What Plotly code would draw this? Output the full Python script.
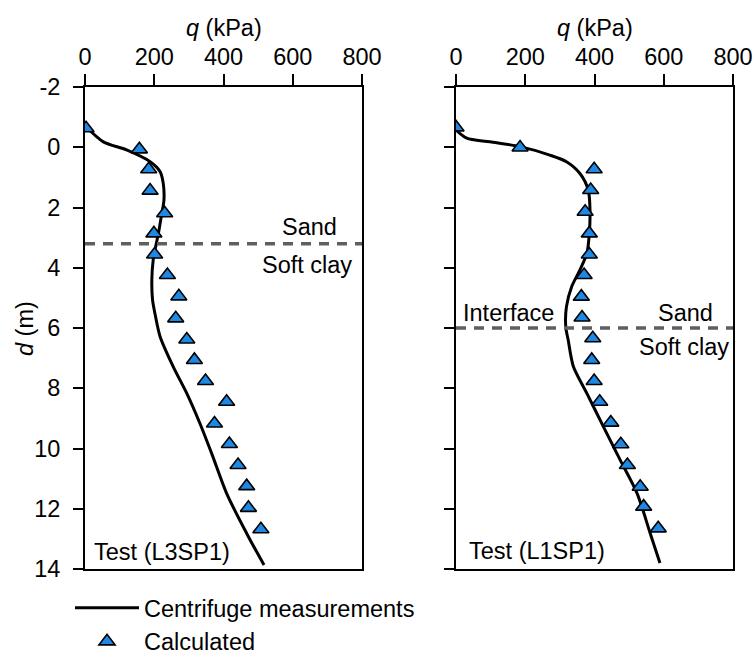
import plotly.graph_objects as go

# ---------------- data ----------------
# Left panel: Test (L3SP1)
left_meas_q = [3, 53, 120, 188, 217, 226, 228, 221, 212, 205, 197, 193, 195, 202, 217, 255, 294, 332, 366, 409, 467, 517]
left_meas_d = [-0.68, -0.18, 0.09, 0.48, 0.81, 1.2, 1.75, 2.25, 2.86, 3.25, 3.74, 4.4, 5.06, 5.52, 6.29, 7.29, 8.17, 9.17, 10.17, 11.49, 12.82, 13.87]
left_calc_q = [3, 157, 184, 188, 230, 199, 201, 238, 271, 262, 294, 316, 348, 409, 374, 417, 442, 467, 472, 508]
left_calc_d = [-0.63, 0.07, 0.73, 1.44, 2.19, 2.86, 3.56, 4.24, 4.95, 5.68, 6.38, 7.06, 7.76, 8.45, 9.17, 9.85, 10.55, 11.25, 11.97, 12.68]
left_interface_d = 3.2

# Right panel: Test (L1SP1)
right_meas_q = [0, 31, 98, 185, 271, 319, 358, 382, 387, 385, 378, 358, 334, 319, 317, 324, 339, 378, 426, 474, 523, 561, 589]
right_meas_d = [-0.57, -0.3, -0.18, -0.02, 0.26, 0.48, 0.87, 1.42, 2.08, 2.86, 3.52, 4.07, 4.63, 5.29, 5.96, 6.4, 7.28, 8.17, 9.28, 10.38, 11.49, 12.82, 13.8]
right_calc_q = [0, 185, 399, 389, 373, 385, 385, 370, 362, 364, 395, 392, 399, 415, 447, 476, 495, 532, 542, 584]
right_calc_d = [-0.66, 0.01, 0.73, 1.42, 2.14, 2.86, 3.56, 4.24, 4.96, 5.65, 6.34, 7.06, 7.76, 8.45, 9.14, 9.86, 10.55, 11.27, 11.93, 12.65]
right_interface_d = 6.0

x_ticks = [0, 200, 400, 600, 800]
y_ticks = [-2, 0, 2, 4, 6, 8, 10, 12, 14]
y_tick_labels = ["-2", "0", "2", "4", "6", "8", "10", "12", "14"]

# ---------------- style ----------------
FONT = "Liberation Sans, Arial, sans-serif"
FS = 23.5
BLUE = "#1E88E5"
W, H = 754, 654

fig = go.Figure()

panels = [
    ("x", "y", left_meas_q, left_meas_d, left_calc_q, left_calc_d, True),
    ("x2", "y2", right_meas_q, right_meas_d, right_calc_q, right_calc_d, False),
]
for xa, ya, mq, md, cq, cd, show in panels:
    fig.add_trace(go.Scatter(
        x=mq, y=md, xaxis=xa, yaxis=ya, mode="lines",
        line=dict(color="black", width=3, shape="spline", smoothing=0.8),
        name="Centrifuge measurements", showlegend=show,
    ))
    fig.add_trace(go.Scatter(
        x=cq, y=cd, xaxis=xa, yaxis=ya, mode="markers",
        marker=dict(symbol="triangle-up", size=14, color=BLUE,
                    line=dict(color="black", width=1.6)),
        name="Calculated", showlegend=show,
    ))

# interface dashed lines
for xr, yr, d in [("x domain", "y", left_interface_d), ("x2 domain", "y2", right_interface_d)]:
    fig.add_shape(type="line", xref=xr, yref=yr, x0=0, x1=1, y0=d, y1=d,
                  line=dict(color="#5f5f5f", width=3.5, dash="10px,8px"))

axis_common = dict(
    range=[0, 800], tickvals=x_ticks, side="top", ticks="outside",
    ticklen=11, tickwidth=2, tickcolor="black", showline=True, linewidth=2,
    linecolor="black", mirror=True, showgrid=False, zeroline=False,
    automargin=False,
    tickfont=dict(family=FONT, size=FS, color="black"),
)
yaxis_common = dict(
    range=[14, -2], tickvals=y_ticks, ticktext=y_tick_labels, ticks="outside",
    ticklen=10, tickwidth=2, ticklabelstandoff=8, automargin=False,
    tickcolor="black", showline=True, linewidth=2, linecolor="black", mirror=True,
    showgrid=False, zeroline=False,
    tickfont=dict(family=FONT, size=FS, color="black"),
)

ydom = [1 - 569 / H, 1 - 87 / H]
fig.update_layout(
    width=W, height=H,
    margin=dict(l=0, r=0, t=0, b=0, autoexpand=False),
    paper_bgcolor="white", plot_bgcolor="white",
    font=dict(family=FONT, size=FS, color="black"),
    xaxis=dict(domain=[85 / W, 362 / W], anchor="y", **axis_common),
    xaxis2=dict(domain=[456 / W, 733 / W], anchor="y2", **axis_common),
    yaxis=dict(domain=ydom, anchor="x", **yaxis_common),
    yaxis2=dict(domain=ydom, anchor="x2", showticklabels=False, **yaxis_common),
    legend=dict(x=70 / W, y=1 - 586 / H, xanchor="left", yanchor="top",
                font=dict(family=FONT, size=FS, color="black"),
                bgcolor="rgba(0,0,0,0)", itemwidth=64, tracegroupgap=0),
    showlegend=True,
)

ann_font = dict(family=FONT, size=FS, color="black")
# axis titles
for xr in ["x domain", "x2 domain"]:
    fig.add_annotation(text="<i>q</i> (kPa)", xref=xr, yref="paper", x=0.5, y=1 - 28 / H,
                       showarrow=False, font=ann_font, xanchor="center", yanchor="middle")
fig.add_annotation(text="<i>d</i> (m)", xref="paper", yref="paper", x=25 / W, y=1 - 329 / H,
                   textangle=-90, showarrow=False, font=ann_font, xanchor="center", yanchor="middle")

annotations = [
    dict(text="Sand", x=648, y=2.65, xref="x", yref="y"),
    dict(text="Soft clay", x=640, y=3.9, xref="x", yref="y"),
    dict(text="Sand", x=664, y=5.5, xref="x2", yref="y2"),
    dict(text="Soft clay", x=658, y=6.63, xref="x2", yref="y2"),
    dict(text="Interface", x=152, y=5.5, xref="x2", yref="y2"),
]
for a in annotations:
    fig.add_annotation(showarrow=False, font=ann_font, xanchor="center", yanchor="middle", **a)
fig.add_annotation(text="Test (L3SP1)", x=20, y=13.43, xref="x", yref="y",
                   showarrow=False, font=ann_font, xanchor="left", yanchor="middle")
fig.add_annotation(text="Test (L1SP1)", x=32, y=13.4, xref="x2", yref="y2",
                   showarrow=False, font=ann_font, xanchor="left", yanchor="middle")

fig.write_html("out.html")
